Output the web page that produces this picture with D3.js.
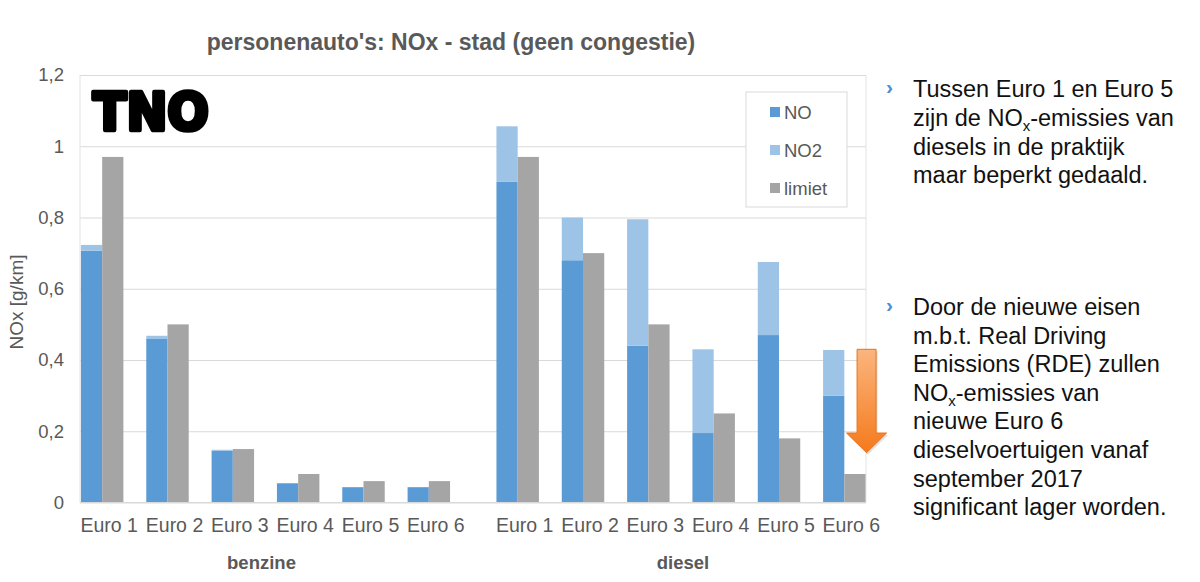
<!DOCTYPE html>
<html>
<head>
<meta charset="utf-8">
<script src="https://cdn.jsdelivr.net/npm/d3@7"></script>
<style>
  body { margin: 0; background: #fff; }
  text { font-family: "Liberation Sans", Arial, sans-serif; }
</style>
</head>
<body>
<div id="chart"></div>
<script>
// chart data
var fuels = ["benzine", "diesel"];
var euroLabels = ["Euro 1", "Euro 2", "Euro 3", "Euro 4", "Euro 5", "Euro 6"];
var seriesNames = ["NO", "NO2", "limiet"];
var noBenzine = [0.707, 0.459, 0.145, 0.054, 0.043, 0.043];
var no2Benzine = [0.016, 0.009, 0.003, 0, 0, 0];
var limietBenzine = [0.97, 0.5, 0.15, 0.08, 0.06, 0.06];
var noDiesel = [0.90, 0.68, 0.44, 0.195, 0.47, 0.30];
var no2Diesel = [0.156, 0.12, 0.355, 0.235, 0.205, 0.128];
var limietDiesel = [0.97, 0.70, 0.50, 0.25, 0.18, 0.08];
var yTicks = [0, 0.2, 0.4, 0.6, 0.8, 1, 1.2];

var width = 1200, height = 582;
var plot = {left: 80, right: 866, top: 75, bottom: 502.5};
var colors = {NO: "#5b9bd5", NO2: "#9dc3e6", limiet: "#a5a5a5"};
var textGrey = "#595959";

var svg = d3.select("#chart").append("svg")
    .attr("width", width)
    .attr("height", height);

var y = d3.scaleLinear().domain([0, 1.2]).range([plot.bottom, plot.top]);

// one band per fuel, then one band per euro class inside it
var xFuel = d3.scaleBand().domain(fuels).range([69.5, 877]).paddingInner(0.0566);
var xEuro = d3.scaleBand().domain(euroLabels).range([0, xFuel.bandwidth()])
    .paddingInner(0.35).paddingOuter(0.175);
var xSeries = d3.scaleBand().domain(["NOx", "limiet"]).range([0, xEuro.bandwidth()]);

var nl = d3.formatLocale({decimal: ",", thousands: ".", grouping: [3], currency: ["€", ""]});
var fmt = nl.format("~g");

// title
svg.append("text")
    .attr("x", 451).attr("y", 50)
    .attr("text-anchor", "middle")
    .attr("font-size", "23px").attr("font-weight", "bold")
    .attr("fill", textGrey)
    .text("personenauto's: NOx - stad (geen congestie)");

// gridlines
svg.append("g")
    .attr("transform", "translate(" + plot.left + ",0)")
    .call(d3.axisLeft(y).tickValues(yTicks).tickSize(-(plot.right - plot.left)).tickFormat(""))
    .call(function(g) { g.select(".domain").remove(); })
    .selectAll("line").attr("stroke", "#d9d9d9");

// plot border left and right
svg.append("line").attr("x1", plot.left).attr("x2", plot.left).attr("y1", plot.top).attr("y2", plot.bottom)
    .attr("stroke", "#e3e3e3");
svg.append("line").attr("x1", plot.right).attr("x2", plot.right).attr("y1", plot.top).attr("y2", plot.bottom)
    .attr("stroke", "#e3e3e3");

// y axis labels
svg.append("g")
    .attr("transform", "translate(64,0)")
    .call(d3.axisLeft(y).tickValues(yTicks).tickSize(0).tickPadding(0).tickFormat(fmt))
    .call(function(g) { g.select(".domain").remove(); })
    .selectAll("text")
    .attr("font-size", "18.5px").attr("fill", textGrey)
    .style("font-family", "Liberation Sans, Arial, sans-serif");

svg.append("text")
    .attr("transform", "translate(23,302) rotate(-90)")
    .attr("text-anchor", "middle")
    .attr("font-size", "19px").attr("fill", textGrey)
    .text("NOx [g/km]");

// TNO logo
svg.append("text")
    .attr("x", 93).attr("y", 130)
    .attr("textLength", 116).attr("lengthAdjust", "spacingAndGlyphs")
    .attr("font-size", "52px").attr("font-weight", "bold")
    .attr("fill", "#000").attr("stroke", "#000").attr("stroke-width", 4.5)
    .attr("stroke-linejoin", "round")
    .style("font-family", "DejaVu Sans, sans-serif")
    .text("TNO");

var groups = [
  {fuel: "benzine", no: noBenzine, no2: no2Benzine, limiet: limietBenzine},
  {fuel: "diesel", no: noDiesel, no2: no2Diesel, limiet: limietDiesel}
];

groups.forEach(function(gd) {
  var g = svg.append("g").attr("transform", "translate(" + xFuel(gd.fuel) + ",0)");
  var rows = euroLabels.map(function(e, i) {
    return {euro: e, no: gd.no[i], no2: gd.no2[i], limiet: gd.limiet[i]};
  });

  // NO (bottom of the stack)
  g.selectAll("rect.no").data(rows).enter().append("rect")
    .attr("class", "no")
    .attr("x", function(d) { return xEuro(d.euro) + xSeries("NOx"); })
    .attr("y", function(d) { return y(d.no); })
    .attr("width", xSeries.bandwidth())
    .attr("height", function(d) { return y(0) - y(d.no); })
    .attr("fill", colors.NO);

  // NO2 stacked on top
  g.selectAll("rect.no2").data(rows).enter().append("rect")
    .attr("class", "no2")
    .attr("x", function(d) { return xEuro(d.euro) + xSeries("NOx"); })
    .attr("y", function(d) { return y(d.no + d.no2); })
    .attr("width", xSeries.bandwidth())
    .attr("height", function(d) { return y(d.no) - y(d.no + d.no2); })
    .attr("fill", colors.NO2);

  // limit value
  g.selectAll("rect.lim").data(rows).enter().append("rect")
    .attr("class", "lim")
    .attr("x", function(d) { return xEuro(d.euro) + xSeries("limiet"); })
    .attr("y", function(d) { return y(d.limiet); })
    .attr("width", xSeries.bandwidth())
    .attr("height", function(d) { return y(0) - y(d.limiet); })
    .attr("fill", colors.limiet);

  // category labels (sit a little right of the bar pairs in the original)
  g.append("g")
    .attr("transform", "translate(7," + (plot.bottom + 12) + ")")
    .call(d3.axisBottom(xEuro).tickSize(0).tickPadding(0))
    .call(function(a) { a.select(".domain").remove(); })
    .selectAll("text")
    .attr("dy", "0.9em")
    .attr("font-size", "19.5px").attr("fill", textGrey)
    .style("font-family", "Liberation Sans, Arial, sans-serif");

  g.append("text")
    .attr("x", xFuel.bandwidth() / 2 + (gd.fuel === "benzine" ? -4 : 2))
    .attr("y", 569)
    .attr("text-anchor", "middle")
    .attr("font-size", "18.5px").attr("font-weight", "bold").attr("fill", textGrey)
    .text(gd.fuel);
});

// baseline
svg.append("line").attr("x1", plot.left).attr("x2", plot.right)
    .attr("y1", y(0)).attr("y2", y(0)).attr("stroke", "#d9d9d9");

// legend
var legend = svg.append("g").attr("transform", "translate(746,92)");
legend.append("rect").attr("width", 101).attr("height", 115)
    .attr("fill", "#fff").attr("stroke", "#d9d9d9");
seriesNames.forEach(function(s, i) {
  var row = legend.append("g").attr("transform", "translate(24," + (20 + i * 38) + ")");
  row.append("rect").attr("x", 0).attr("y", -5).attr("width", 10).attr("height", 10).attr("fill", colors[s]);
  row.append("text").attr("x", 14).attr("y", 6.5)
    .attr("font-size", "18.5px").attr("fill", textGrey).text(s);
});

// orange arrow next to diesel Euro 6
var defs = svg.append("defs");
var grad = defs.append("linearGradient").attr("id", "arrowGrad")
    .attr("x1", 0).attr("y1", 0).attr("x2", 0).attr("y2", 1);
grad.append("stop").attr("offset", "0%").attr("stop-color", "#fbb57e");
grad.append("stop").attr("offset", "100%").attr("stop-color", "#f57a1c");

var ax = xFuel("diesel") + xEuro("Euro 6") + xEuro.bandwidth() + 1;
var aTop = y(0.43), aNeck = y(0.195), aTip = y(0.14);
var arrowPts = [
  [ax - 9.5, aTop], [ax + 9.5, aTop], [ax + 9.5, aNeck], [ax + 20, aNeck],
  [ax, aTip], [ax - 20, aNeck], [ax - 9.5, aNeck]
];
svg.append("path")
    .attr("d", d3.line()(arrowPts.map(function(p) { return [p[0] + 1.5, p[1] + 2]; })) + "Z")
    .attr("fill", "#000").attr("opacity", 0.12);
svg.append("path")
    .attr("d", d3.line()(arrowPts) + "Z")
    .attr("fill", "url(#arrowGrad)").attr("stroke", "#e8731a").attr("stroke-width", 1);

// right-hand notes
var notes = svg.append("g").attr("font-size", "23.5px").attr("fill", "#111");
function bullet(yy) {
  notes.append("text").attr("x", 886).attr("y", yy - 3)
    .attr("font-size", "21px").attr("font-weight", "bold").attr("fill", "#4a8fcf").text("›");
}
function line(yy, parts) {
  var t = notes.append("text").attr("x", 913).attr("y", yy);
  var shifted = false;
  parts.forEach(function(p) {
    var sp = t.append("tspan");
    if (typeof p === "string") {
      sp.text(p);
      if (shifted) { sp.attr("dy", -5); shifted = false; }
    } else {
      sp.attr("font-size", "15px").attr("dy", 5).text(p.sub);
      shifted = true;
    }
  });
}
bullet(97);
line(97, ["Tussen Euro 1 en Euro 5"]);
line(125.5, ["zijn de NO", {sub: "x"}, "-emissies van"]);
line(154.5, ["diesels in de praktijk"]);
line(183, ["maar beperkt gedaald."]);
bullet(315);
line(315, ["Door de nieuwe eisen"]);
line(343.5, ["m.b.t. Real Driving"]);
line(372, ["Emissions (RDE) zullen"]);
line(400.5, ["NO", {sub: "x"}, "-emissies van"]);
line(429, ["nieuwe Euro 6"]);
line(458, ["dieselvoertuigen vanaf"]);
line(486.5, ["september 2017"]);
line(515, ["significant lager worden."]);
</script>
</body>
</html>
